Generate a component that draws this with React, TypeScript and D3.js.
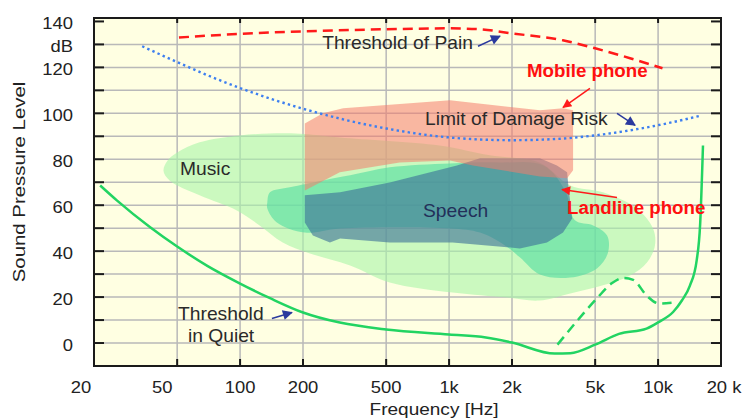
import { useEffect, useRef } from "react";
import * as d3 from "d3";

// frequency [Hz], level [dB]
const painThreshold = [
  [51, 133], [100, 134.6], [200, 135.7], [500, 136.6], [1000, 137], [1400, 136.6],
  [2000, 134.8], [3500, 131.8], [5000, 128.3], [7340, 124], [10500, 119.6],
];
const damageRisk = [
  [34, 129.2], [100, 111], [200, 102], [500, 93.4], [1000, 89.5], [2000, 88.3],
  [3500, 89], [5000, 90.4], [7340, 92.6], [11000, 95.6], [16200, 99.1],
];
const quietThreshold = [
  [21.4, 68.6], [25.8, 62], [37, 50.5], [50, 42], [70, 33.5], [100, 25.9], [140, 19.4],
  [200, 13.3], [300, 8.9], [500, 5.9], [1000, 3.7], [1500, 2.4], [2000, 0.2], [3200, -4.6],
  [3800, -4.4], [5000, -0.7], [6500, 4], [8800, 6.3], [10000, 9], [11800, 13.5],
  [13000, 18.5], [14200, 25], [15300, 36], [15900, 52], [16400, 86],
];
const quietDashed = [
  [3300, -0.7], [4000, 8.5], [5100, 19.5], [6000, 26], [6800, 28.3], [7600, 27.5],
  [8850, 20.5], [10100, 17.2], [11600, 17.5],
];
const musicArea = [
  [43, 75], [45, 79.5], [50, 83], [64, 87.4], [100, 90.4], [160, 91.3], [204, 91],
  [300, 89.5], [900, 86], [1570, 81.7], [2700, 78.6], [3800, 68.6], [5450, 65.6],
  [7900, 58.6], [9460, 49.9], [9660, 42.5], [8850, 35.1], [7340, 29.4], [5450, 25.1],
  [3800, 21.6], [2700, 18.5], [1900, 19.8], [1040, 22], [520, 26.4], [336, 33.8],
  [216, 39], [160, 43.8], [124, 51.2], [97, 57.6], [64, 64.3], [46, 70.8],
];
const speechArea = [
  [135, 61.2], [139, 65.6], [173, 67.8], [249, 70.8], [336, 73], [520, 76.5],
  [1010, 78.2], [1750, 78.6], [2830, 77.3], [3590, 66.4], [4000, 53.4], [4890, 51.2],
  [5700, 46.8], [5760, 39.4], [5100, 32.5], [3800, 28.5], [2720, 29.8], [2180, 37.3],
  [1850, 42.5], [1406, 48.1], [1010, 49.9], [301, 49.9], [204, 48.1], [150, 52.5],
  [135, 58.6],
];
const mobileArea = [
  [204, 95.6], [249, 100], [311, 102.2], [1010, 105.7], [2720, 101.3], [3510, 102.2],
  [3920, 101.3], [3920, 75.2], [3670, 71.7], [2720, 72.5], [1300, 77.3], [1010, 79.5],
  [580, 78.6], [300, 74.3], [204, 66.4],
];
const landlineArea = [
  [204, 64.3], [301, 65.6], [520, 69.9], [1090, 77.3], [1406, 80.4], [2720, 80.4],
  [3280, 77.3], [3670, 74.3], [3720, 68.6], [3880, 54.2], [3510, 48.1], [2940, 43.8],
  [2180, 41.2], [1040, 43.8], [520, 43.8], [301, 45.5], [269, 43.8], [223, 46.8],
  [204, 52.5],
];

const freqGrid = [50, 100, 200, 500, 1000, 2000, 5000, 10000];
const freqLabelValues = [20, 50, 100, 200, 500, 1000, 2000, 5000, 10000, 20000];
const freqLabelTexts = ["20", "50", "100", "200", "500", "1k", "2k", "5k", "10k", "20 k"];
const levelLabelValues = [140, 130, 120, 100, 80, 60, 40, 20, 0];
const levelLabelTexts = ["140", "dB", "120", "100", "80", "60", "40", "20", "0"];

const labels = [
  { text: "Threshold of Pain", f: 247, db: 130.5, color: "#2a2a2a", bold: false },
  { text: "Mobile phone", f: 2360, db: 118.7, color: "#ff1010", bold: true },
  { text: "Limit of Damage Risk", f: 767, db: 97.4, color: "#2a2a2a", bold: false },
  { text: "Music", f: 51.6, db: 76, color: "#2a2a2a", bold: false },
  { text: "Speech", f: 750, db: 57.7, color: "#23305a", bold: false },
  { text: "Landline phone", f: 3670, db: 59, color: "#ff1010", bold: true },
  { text: "Threshold", f: 50.5, db: 12.8, color: "#2a2a2a", bold: false },
  { text: "in Quiet", f: 56.3, db: 3.3, color: "#2a2a2a", bold: false },
];
const arrows = [
  { from: [1375, 129.2], to: [1752, 133.6], color: "blue" },
  { from: [4720, 110.9], to: [3510, 102.6], color: "red" },
  { from: [6360, 100], to: [7760, 94.8], color: "blue" },
  { from: [6360, 63.4], to: [3470, 66.8], color: "red" },
  { from: [142, 10.7], to: [177, 13.3], color: "blue" },
];

const App = () => {
  const svgRef = useRef(null);

  useEffect(() => {
    const svg = d3.select(svgRef.current);
    svg.selectAll("*").remove();

    const width = 743;
    const height = 418;
    const left = 94, right = 721, top = 18, bottom = 366;
    const font = "'Liberation Sans', Arial, sans-serif";

    const x = d3.scaleLog().domain([20, 20000]).range([left, right]);
    const y = d3.scaleLinear().domain([-10, 141.5]).range([bottom, top]);

    svg.attr("width", width).attr("height", height);
    svg.append("rect").attr("width", width).attr("height", height).attr("fill", "#ffffff");

    // text is a bit wide in the original, stretch horizontally
    const addText = (px, py, txt, size, opts = {}) => {
      const t = svg.append("text")
        .attr("transform", `translate(${px},${py}) ${opts.rotate ? "rotate(-90) " : ""}scale(${opts.sx || 1.1},1)`)
        .attr("text-anchor", opts.anchor || "start")
        .attr("dominant-baseline", opts.baseline || "auto")
        .attr("font-family", font)
        .attr("font-size", size)
        .attr("font-weight", opts.bold ? "bold" : "normal")
        .attr("fill", opts.color || "#222")
        .text(txt);
      return t;
    };

    const defs = svg.append("defs");
    const markerColors = { blue: "#2b3a9e", red: "#ff1a1a" };
    Object.entries(markerColors).forEach(([k, c]) => {
      defs.append("marker")
        .attr("id", "head-" + k)
        .attr("viewBox", "0 0 10 10")
        .attr("refX", 9)
        .attr("refY", 5)
        .attr("markerUnits", "userSpaceOnUse")
        .attr("markerWidth", k === "blue" ? 12 : 11)
        .attr("markerHeight", k === "blue" ? 10 : 9)
        .attr("orient", "auto")
        .append("path")
        .attr("d", "M0,0 L10,5 L0,10 z")
        .attr("fill", c);
    });

    // plot background
    svg.append("rect")
      .attr("x", left).attr("y", top)
      .attr("width", right - left).attr("height", bottom - top)
      .attr("fill", "#ffffe2");

    // grid
    const grid = svg.append("g").attr("stroke", "#b9b9b9").attr("stroke-width", 1.5);
    freqGrid.forEach((f) => {
      grid.append("line").attr("x1", x(f)).attr("x2", x(f)).attr("y1", top).attr("y2", bottom);
    });
    d3.range(0, 131, 10).forEach((v) => {
      grid.append("line").attr("x1", left).attr("x2", right).attr("y1", y(v)).attr("y2", y(v));
    });

    const smooth = d3.line().x((d) => x(d[0])).y((d) => y(d[1])).curve(d3.curveCatmullRomClosed.alpha(0.5));
    const poly = d3.line().x((d) => x(d[0])).y((d) => y(d[1])).curve(d3.curveLinearClosed);
    const curve = d3.line().x((d) => x(d[0])).y((d) => y(d[1])).curve(d3.curveMonotoneX);

    svg.append("path").attr("d", smooth(musicArea)).attr("fill", "#a8f5a8").attr("fill-opacity", 0.6);
    svg.append("path").attr("d", smooth(speechArea)).attr("fill", "#50dca0").attr("fill-opacity", 0.6);
    svg.append("path").attr("d", poly(landlineArea)).attr("fill", "#3a6e98").attr("fill-opacity", 0.6);
    svg.append("path").attr("d", poly(mobileArea)).attr("fill", "#f47c6c").attr("fill-opacity", 0.55);

    svg.append("path").attr("d", curve(painThreshold)).attr("fill", "none")
      .attr("stroke", "#ff1a1a").attr("stroke-width", 2.5).attr("stroke-dasharray", "10 6");
    svg.append("path").attr("d", curve(damageRisk)).attr("fill", "none")
      .attr("stroke", "#3d7ff0").attr("stroke-width", 2.4).attr("stroke-dasharray", "2.4 3.2");
    svg.append("path").attr("d", curve(quietThreshold)).attr("fill", "none")
      .attr("stroke", "#22d462").attr("stroke-width", 2.5);
    svg.append("path").attr("d", curve(quietDashed)).attr("fill", "none")
      .attr("stroke", "#22d462").attr("stroke-width", 2.5).attr("stroke-dasharray", "10 6");

    // frame + ticks
    const frame = svg.append("g").attr("stroke", "#1a1a1a");
    frame.append("rect")
      .attr("x", left).attr("y", top)
      .attr("width", right - left).attr("height", bottom - top)
      .attr("fill", "none").attr("stroke-width", 2);
    d3.range(-10, 141, 10).forEach((v) => {
      frame.append("line").attr("x1", left).attr("x2", left + 10).attr("y1", y(v)).attr("y2", y(v)).attr("stroke-width", 2);
      frame.append("line").attr("x1", right - 10).attr("x2", right).attr("y1", y(v)).attr("y2", y(v)).attr("stroke-width", 2);
    });
    freqGrid.forEach((f) => {
      frame.append("line").attr("x1", x(f)).attr("x2", x(f)).attr("y1", bottom).attr("y2", bottom - 7).attr("stroke-width", 2);
      frame.append("line").attr("x1", x(f)).attr("x2", x(f)).attr("y1", top).attr("y2", top + 5).attr("stroke-width", 2);
    });

    // tick labels
    const labelShift = { 20: -13, 50: -15, 20000: 3 };
    freqLabelValues.forEach((f, i) => {
      addText(x(f) + (labelShift[f] || 0), 393, freqLabelTexts[i], 16, { anchor: "middle", sx: 1.15 });
    });
    levelLabelValues.forEach((v, i) => {
      addText(73, y(v) + 2, levelLabelTexts[i], 16, { anchor: "end", baseline: "central", sx: 1.15 });
    });

    addText(434, 415, "Frequency [Hz]", 17, { anchor: "middle", sx: 1.12 });
    addText(19, 182, "Sound Pressure Level", 17, { anchor: "middle", baseline: "central", rotate: true, sx: 1.2 });

    // annotations
    arrows.forEach((a) => {
      svg.append("line")
        .attr("x1", x(a.from[0])).attr("y1", y(a.from[1]))
        .attr("x2", x(a.to[0])).attr("y2", y(a.to[1]))
        .attr("stroke", markerColors[a.color])
        .attr("stroke-width", 1.5)
        .attr("marker-end", `url(#head-${a.color})`);
    });
    labels.forEach((l) => {
      addText(x(l.f), y(l.db), l.text, l.bold ? 18 : 17.5, {
        baseline: "central",
        bold: l.bold,
        color: l.color,
        sx: l.bold ? 1.04 : 1.1,
      });
    });
  }, []);

  return <svg ref={svgRef} style={{ position: "absolute", left: 0, top: 0 }}></svg>;
};

export default App;
